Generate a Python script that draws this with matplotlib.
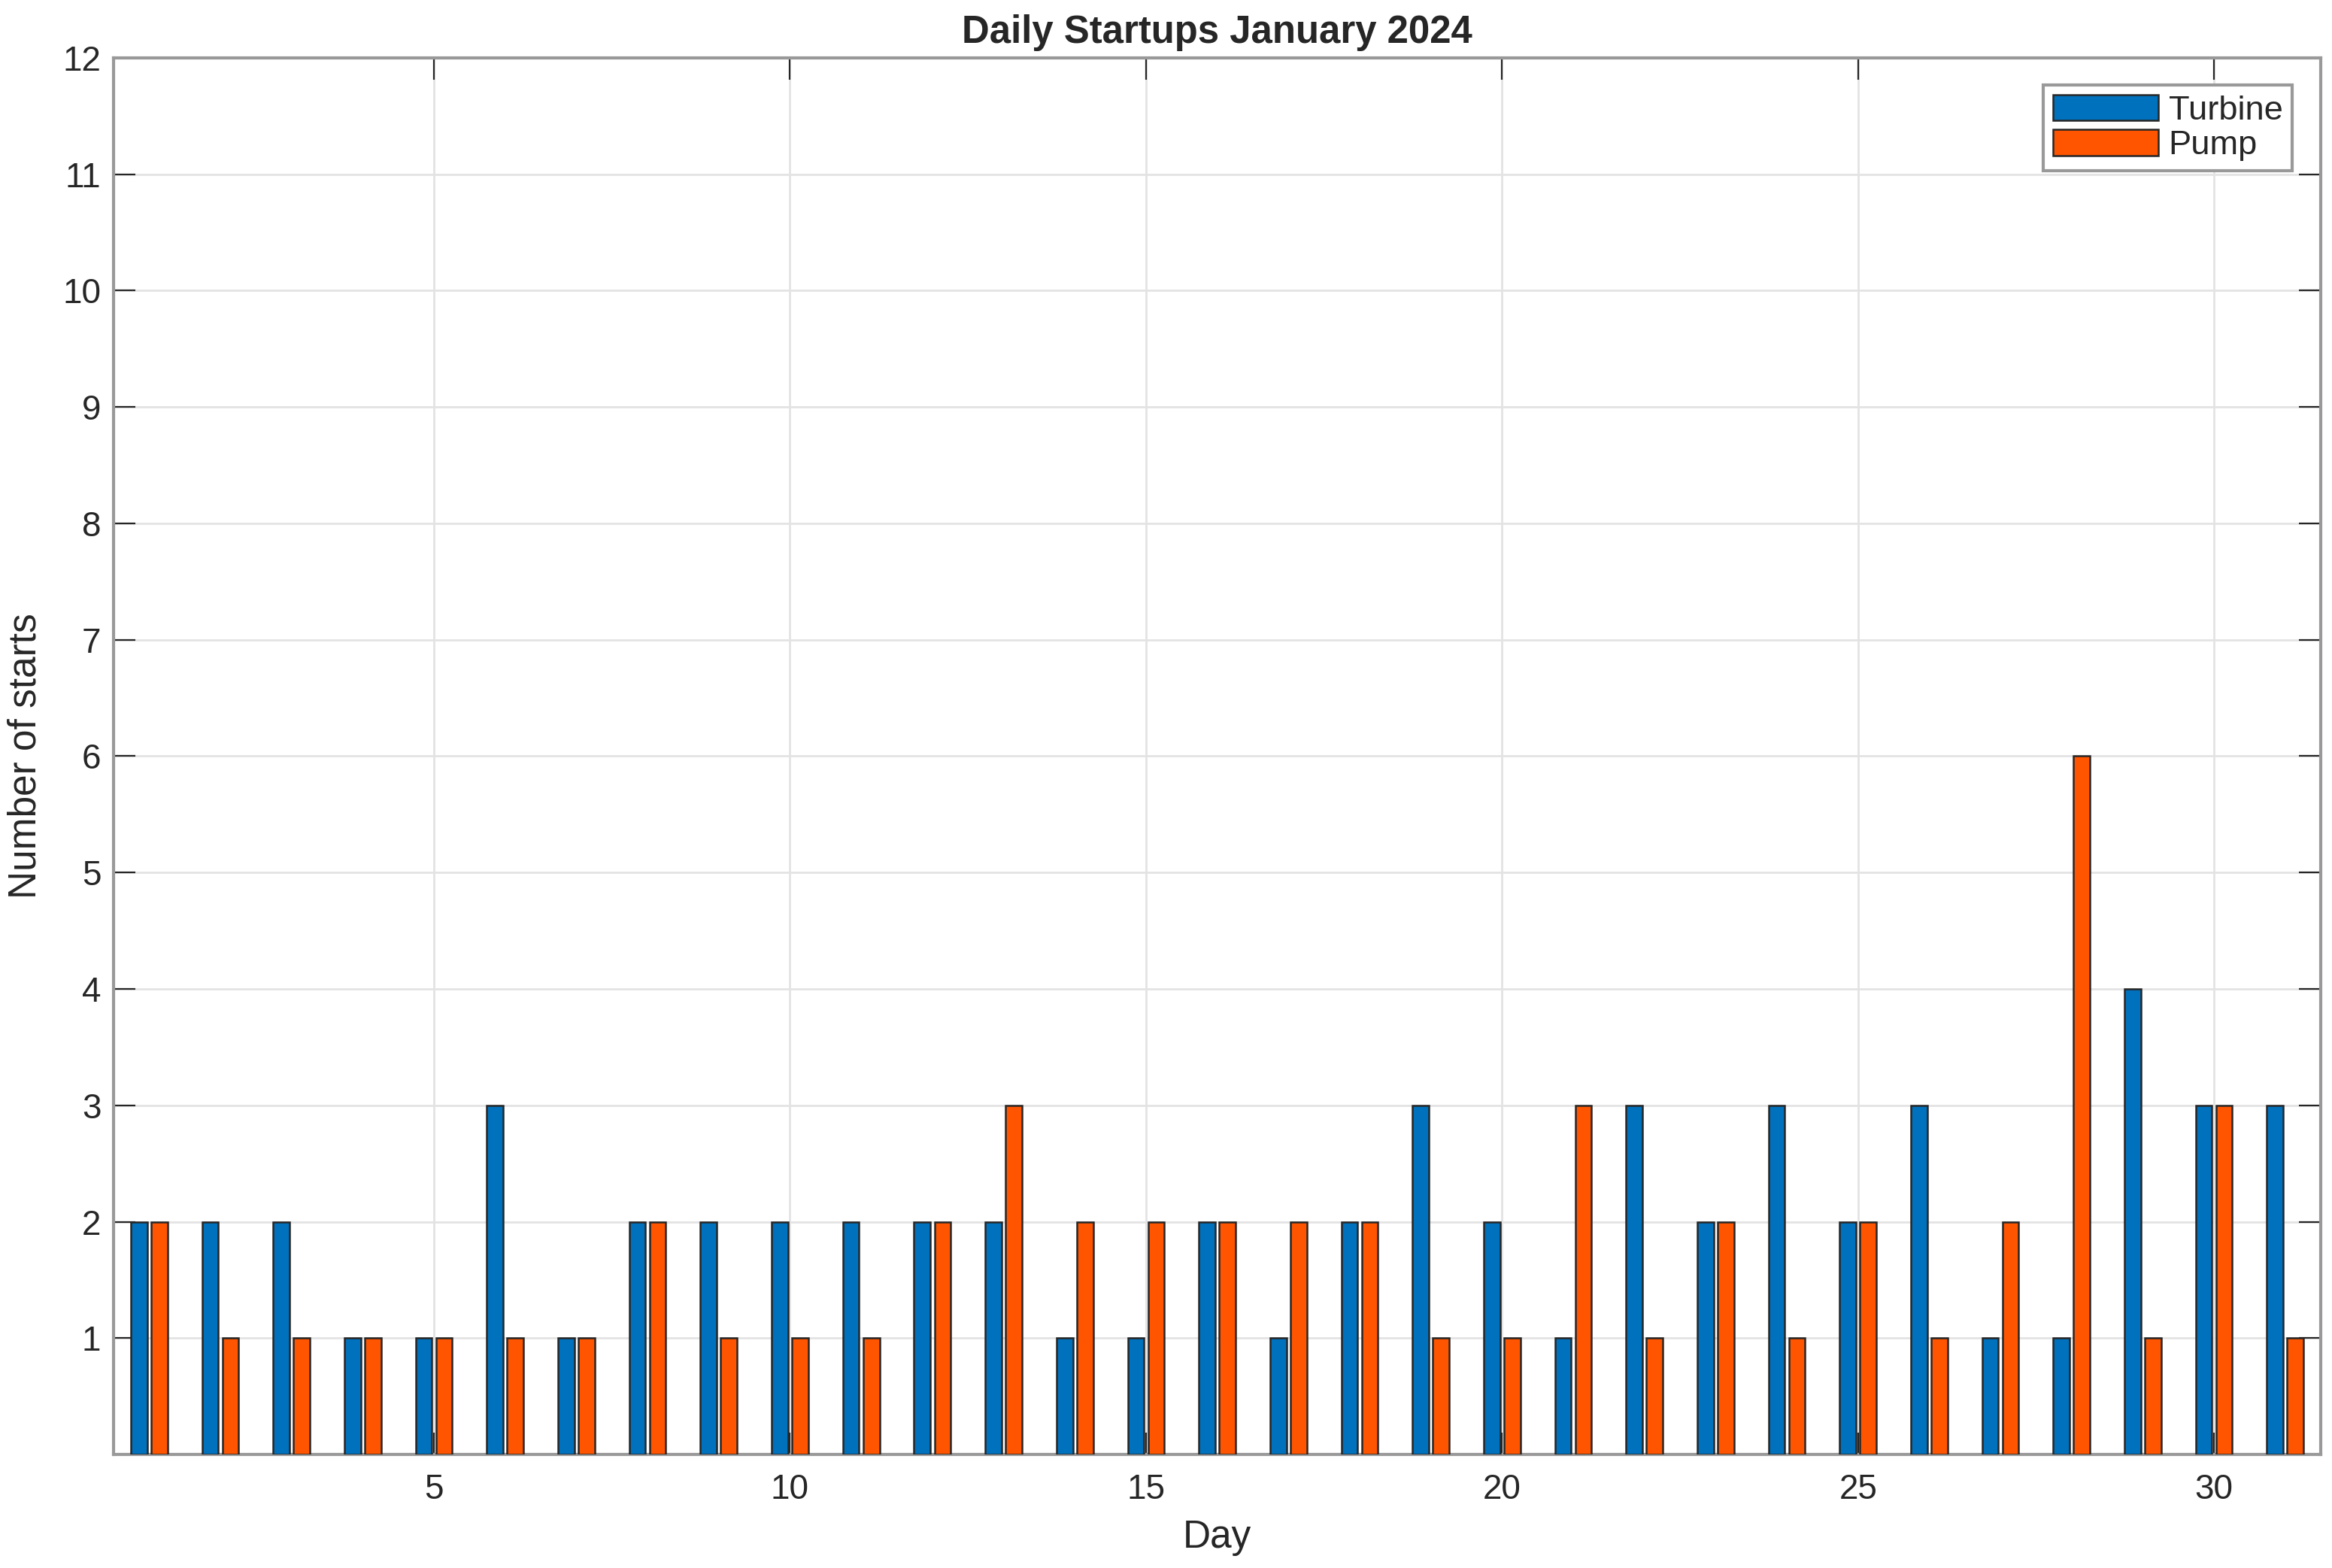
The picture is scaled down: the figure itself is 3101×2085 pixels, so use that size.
import numpy as np
import matplotlib
matplotlib.use('Agg')
import matplotlib.pyplot as plt

plt.rcParams['font.family'] = ['Liberation Sans', 'DejaVu Sans']

# Daily startups, January 2024
days = np.arange(1, 32)
turbine = [2, 2, 2, 1, 1, 3, 1, 2, 2, 2, 2, 2, 2, 1, 1, 2, 1, 2, 3, 2, 1, 3, 2, 3, 2, 3, 1, 1, 4, 3, 3]
pump = [2, 1, 1, 1, 1, 1, 1, 2, 1, 1, 1, 2, 3, 2, 2, 2, 2, 2, 1, 1, 3, 1, 2, 1, 2, 1, 2, 6, 1, 3, 1]
series_names = ['Turbine', 'Pump']
x_ticks = [5, 10, 15, 20, 25, 30]
y_ticks = list(range(1, 13))

fig = plt.figure(figsize=(15.505, 10.425), dpi=200)
ax = fig.add_axes([0.0487, 0.0724, 0.9465, 0.8907])

off = 0.1429
w = 0.229
ax.bar(days - off, turbine, width=w, color='#0072BD', edgecolor='#262626', linewidth=0.9,
       label=series_names[0], zorder=3)
ax.bar(days + off, pump, width=w, color='#FF5500', edgecolor='#262626', linewidth=0.9,
       label=series_names[1], zorder=3)

ax.set_xlim(0.5, 31.5)
ax.set_ylim(0, 12)
ax.set_xticks(x_ticks)
ax.set_yticks(y_ticks)
ax.grid(True, color='#e3e3e3', linewidth=1.0, zorder=0)
ax.set_axisbelow(True)

for s in ax.spines.values():
    s.set_color('#999999')
    s.set_linewidth(1.5)
ax.tick_params(direction='in', length=10.5, width=0.8, color='#262626',
               top=True, right=True, labelsize=16.5, labelcolor='#262626')
ax.tick_params(axis='x', pad=9)
ax.tick_params(axis='y', pad=6)

ax.set_xlabel('Day', fontsize=18.5, color='#262626', labelpad=6)
ax.set_ylabel('Number of starts', fontsize=18.5, color='#262626', labelpad=9)
ax.set_title('Daily Startups January 2024', fontsize=18.3, fontweight='bold', color='#262626', pad=7)

leg = ax.legend(loc='upper right', bbox_to_anchor=(0.9871, 0.9806), borderaxespad=0,
                fontsize=16.3, handlelength=3.1, handleheight=0.8, handletextpad=0.3,
                labelspacing=0.1, borderpad=0.28, fancybox=False, framealpha=1)
leg.get_frame().set_edgecolor('#999999')
leg.get_frame().set_linewidth(1.5)
for t in leg.get_texts():
    t.set_color('#262626')

fig.savefig('out.png', dpi=200)
